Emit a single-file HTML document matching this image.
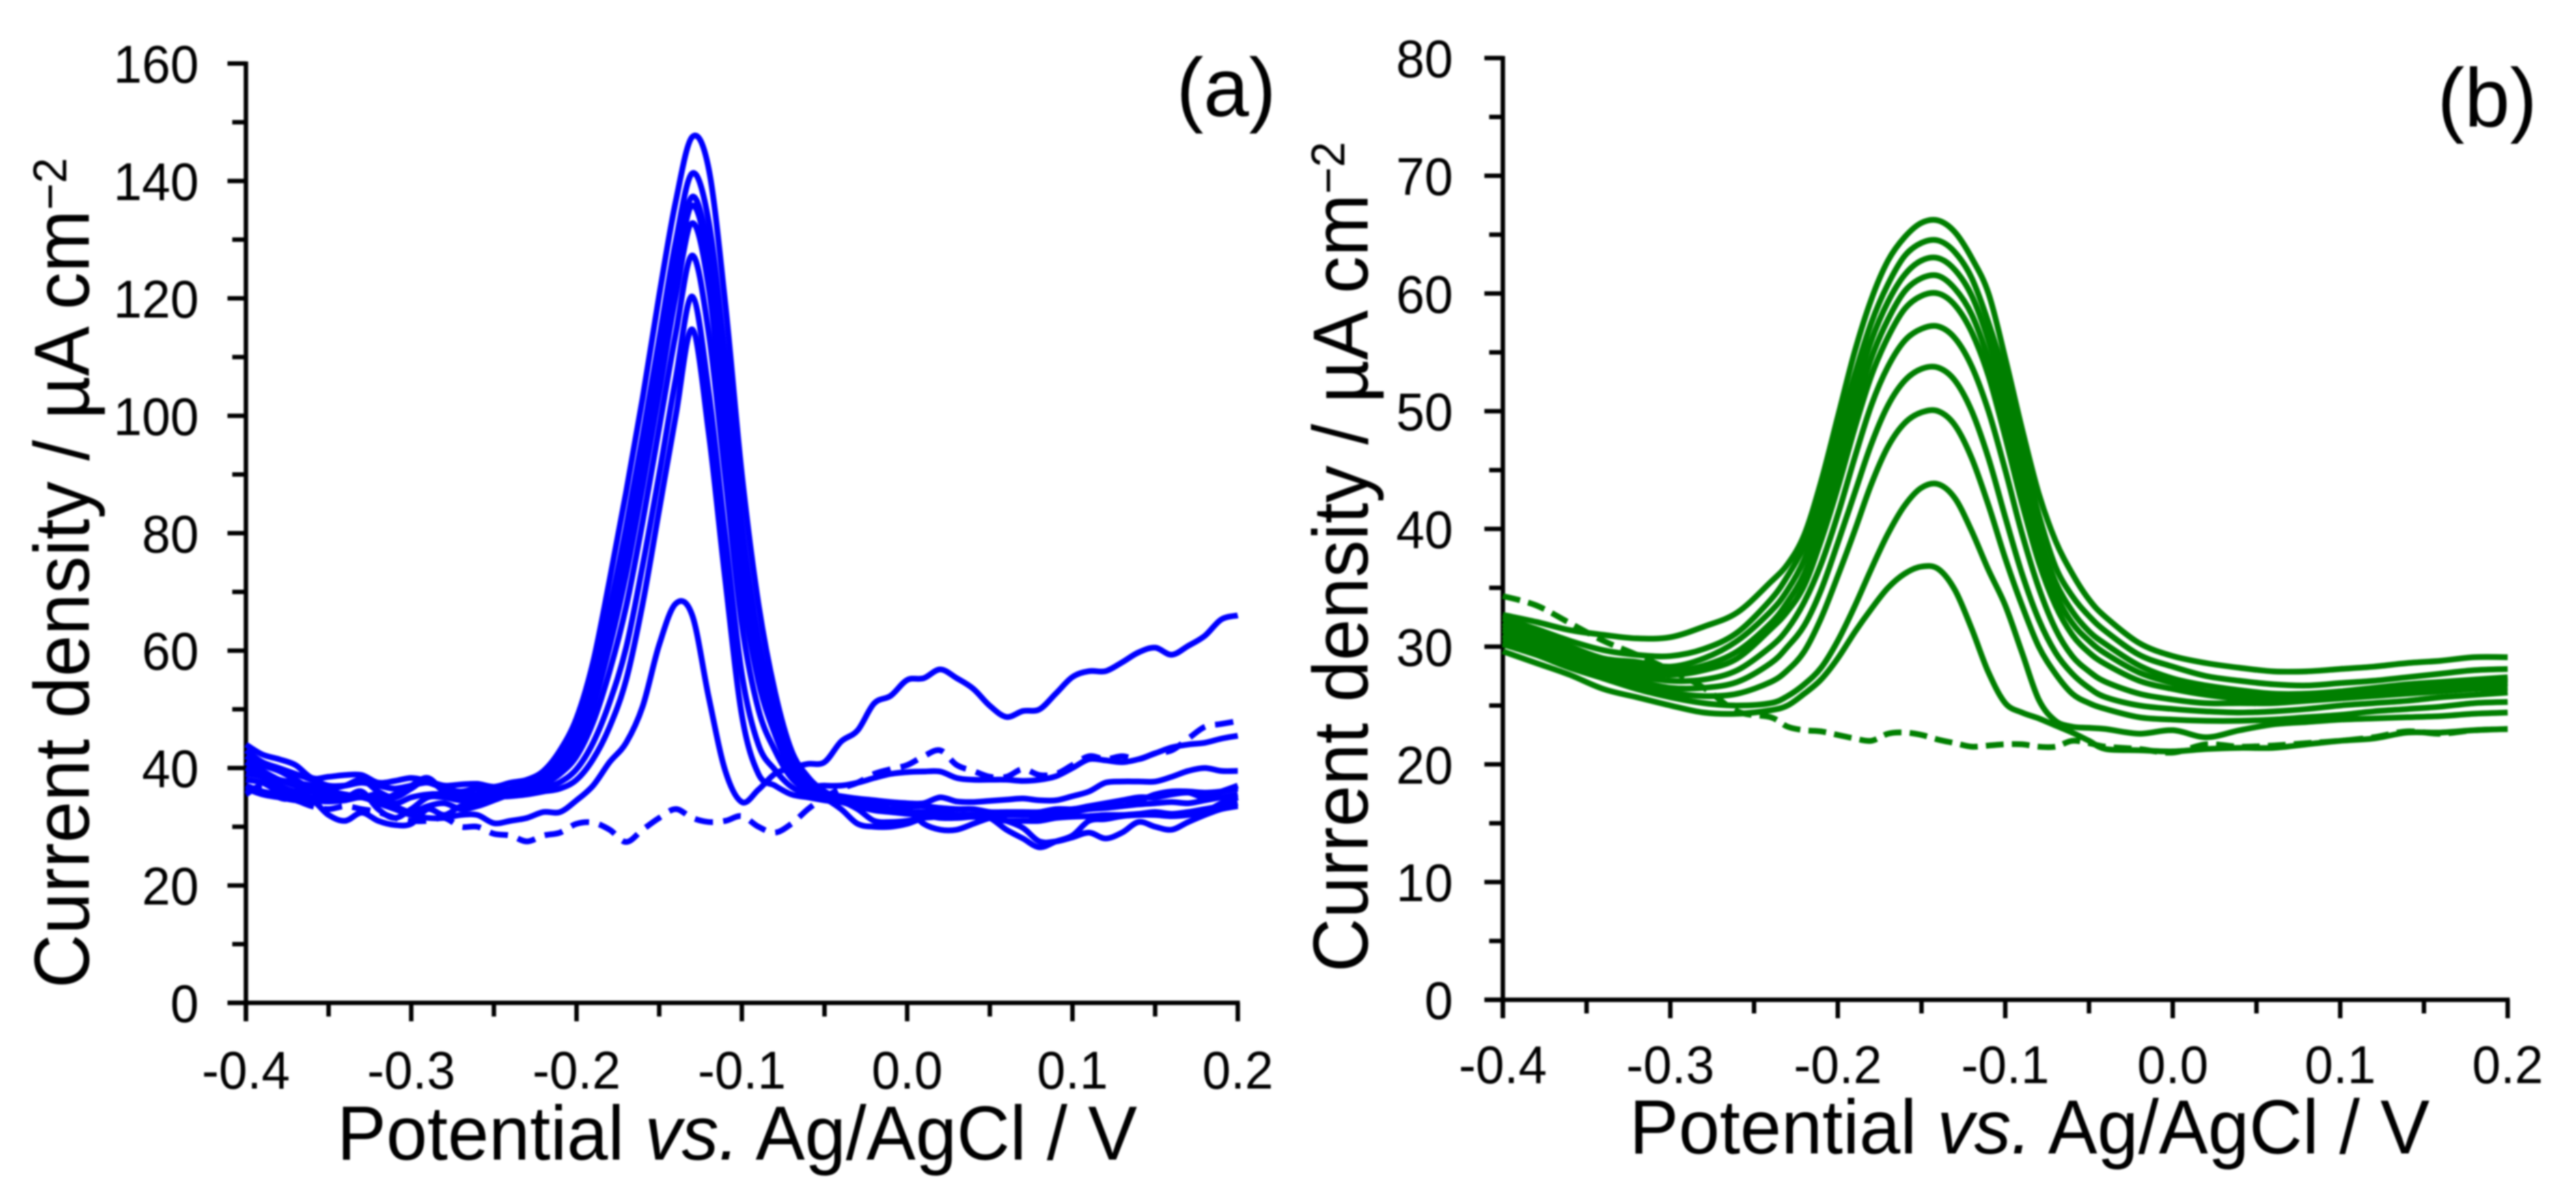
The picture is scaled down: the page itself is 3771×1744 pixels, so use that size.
<!DOCTYPE html>
<html lang="en">
<head>
<meta charset="utf-8">
<title>Current density vs potential (a) and (b)</title>
<style>
html,body{margin:0;padding:0;background:#fff;width:3771px;height:1744px;overflow:hidden}
svg{display:block;filter:blur(1.2px)}
text{font-family:"Liberation Sans",sans-serif;fill:#000}
</style>
</head>
<body>
<svg id="figure" xmlns="http://www.w3.org/2000/svg" width="3771" height="1744" viewBox="0 0 3771 1744">
<rect x="0" y="0" width="3771" height="1744" fill="#fff"/>
<g id="panel-a"></g>
<g id="panel-b"></g>
<text transform="translate(1795 170) scale(.98 1)" font-size="122" text-anchor="middle">(a)</text>
<text transform="translate(3641 185) scale(.98 1)" font-size="122" text-anchor="middle">(b)</text>
<text transform="translate(1079 1698) scale(.965 1)" font-size="112" text-anchor="middle">Potential <tspan font-style="italic">vs.</tspan> Ag/AgCl / V</text>
<text transform="translate(2971 1689) scale(.965 1)" font-size="112" text-anchor="middle">Potential <tspan font-style="italic">vs.</tspan> Ag/AgCl / V</text>
<text transform="translate(130 839) rotate(-90) scale(.96 1)" font-size="114" text-anchor="middle">Current density / µA cm<tspan font-size="70" dy="-33">−2</tspan></text>
<text transform="translate(2002 815.5) rotate(-90) scale(.96 1)" font-size="114" text-anchor="middle">Current density / µA cm<tspan font-size="70" dy="-34">−2</tspan></text>
</svg>
<script>
/* ---------- panel (a) data ---------- */
const potentialsA = [-0.40,-0.39,-0.38,-0.37,-0.36,-0.35,-0.34,-0.33,-0.32,-0.31,
-0.30,-0.29,-0.28,-0.27,-0.26,-0.25,-0.24,-0.23,-0.22,-0.21,
-0.20,-0.19,-0.18,-0.17,-0.16,-0.15,-0.14,-0.13,-0.12,-0.11,
-0.10,-0.09,-0.08,-0.07,-0.06,-0.05,-0.04,-0.03,-0.02,-0.01,
0.00,0.01,0.02,0.03,0.04,0.05,0.06,0.07,0.08,0.09,
0.10,0.11,0.12,0.13,0.14,0.15,0.16,0.17,0.18,0.19,0.20];
const aPeak148 = [44,42.3,41.5,40.5,38.3,38.5,38.8,38.8,37.5,37.8,
38.3,37.8,37,37.2,37.3,36.8,37.5,38,39.5,43,
48.5,58,72,87,103,120.5,136.5,147.5,142,119,
90,68,53,43,38.5,36,35,34.5,34.2,34,
33.5,33.5,33.2,33,33,32.5,32.5,32.5,32.5,33,
33,33.5,34,34.5,35,35,35.5,35.8,35,36,37];
const aPeak142 = [43,41,40,39,38,37,37,37.5,37,36.5,
37,37.5,36.5,36,36.5,36,36.5,37.5,38.8,41.7,
46.4,54.7,67,81,96.5,113,129.6,141.3,133,109.5,
81.5,62,49.8,41.5,37.8,35.7,35.2,34.8,34.5,34.2,
34,34,35,34.3,34.2,34.4,34.6,34.8,34.5,34.5,
35.2,36,37.5,37.7,37.7,37.7,38.5,39.5,40,39.5,39.5];
const aPeak138 = [42,40.5,39.5,38,36.5,36.5,37,38,36,35,
36.5,38,36,35.5,35.5,35.8,36,37.2,38.4,41,
45.2,52.7,64,77.5,92.5,108.5,125,137.3,127.6,103.5,
76.5,58.5,47.9,40.6,37.4,35.5,34.6,33.8,33.5,33,
32.5,32.5,32.5,32,32,32,32,32,32,32.2,
32.5,33,33.2,33.5,33.8,34,34.2,34,34.5,35,35.5];
const aPeak136 = [41,39.5,38,37,36,36,35.5,35,34.5,35.5,
37,38.3,36,35,35,35,36.3,37.1,38.2,40.6,
44.7,52,63,76,91,107,123.5,135.8,125.8,101.7,
75,57.3,47.2,40.3,37.2,37,37,37.5,38.3,39,
39.3,39.4,39.4,38.3,38,38,38,37.8,38,38.6,
40,41.5,41.3,41,41.5,42.5,43.5,44,44.3,45,45.5];
const aPeak133 = [40,39,38,37.5,37,36,35.5,35,35.5,34,
35,35.5,35.5,34.8,35,35.5,36,36.9,37.9,40,
43.8,50.6,60.7,73,88,104,120.4,132.8,121.8,97,
71,54.8,45.8,39.6,37,35.3,34.4,33,31,30.8,
31,31.5,31.7,31.7,31.7,31.5,31,31,31,31.5,
31.7,31.8,32,32,32.2,32.5,32.2,32.5,33,33.5,34];
const aPeak128 = [39,38.5,37,36,36,35.5,35,36,33,31.5,
33,35,35,34.5,34.8,35,35.8,36.5,37.3,39,
42,47.8,56.5,67.5,82,98,114,127.3,114,89.5,
64.5,50,43,38.3,36.3,35,34.5,33.5,32.8,32.5,
32.2,32,31.5,31.5,31.7,31.7,31,29.8,27.5,27.5,
28.2,29,28,29,30.8,30,29.5,30.8,32,33,33.5];
const aPeak121 = [38,37.5,36,35.5,35,35,34.8,35,34.5,33.5,
32.5,33.5,34,33,33.5,34.5,35.5,36,36.6,37.6,
39.8,44.3,51.2,60.5,74.5,90,106.3,120.3,104,79.5,
56,44,39.7,36.8,35.6,34.8,33,30.5,30,30,
30.5,31.5,32,32,32,31.5,29.5,28,26.5,27.5,
28.5,31,31.3,31.8,32,32,31.8,32,32.5,34,35];
const aPeak115 = [36.5,35.5,35,34.5,34.5,32,31,32.4,31,30.3,
30.5,33,32,33.5,34,35,35.2,35.5,36,36.5,
38,41.5,47,55,68,84,100,114.7,97,72,
49,39,37,35.5,35,34.5,34.2,33.5,33.5,33,
33,30.5,29.5,29.5,30.5,31.5,32,32.3,31.5,32,
33,33,33.5,34.5,34.5,35.5,36,36,35.8,36,36.5];
const aPeak68 = [37,36,35.5,35,34.5,34.3,34.5,35,34,33,
32,31.5,31.5,32,32,30.6,31,31.5,32.5,32.5,
34.5,37,41,44.3,50.5,61,68,66,52,39.5,
34.2,36.3,39,40,40.7,41,44.5,46.4,51,52.3,
55,55.3,56.8,55.3,53.5,50.6,48.7,49.7,50,52.7,
55.5,56.5,56.5,58,59.7,60.5,59.3,60.8,62.5,65.3,66];
const aDashed = [35.5,37,35,34.5,33.5,33,33.5,33,32.5,31.5,
31,31,31.5,30,30,28.8,28.5,27.5,28.5,29,
30.5,30.7,29.5,27.4,29.5,31.5,33,31.5,30.8,31,
31.8,30,29,30.5,33,35,36.5,37.5,39,39.8,
40.5,42,43,40.5,39.5,38.5,38.5,39.8,38.8,39,
40.5,42,41.5,42,41.5,42.5,43,45,47,47.5,48];

/* ---------- panel (b) data ---------- */
const potentialsB = [-0.40,-0.38,-0.36,-0.34,-0.32,-0.30,-0.28,-0.26,
-0.24,-0.23,-0.22,-0.21,-0.20,-0.19,-0.18,-0.17,-0.16,-0.15,-0.14,-0.13,-0.12,-0.11,-0.10,-0.09,-0.08,-0.07,-0.06,-0.05,-0.04,
-0.02,0.00,0.02,0.04,0.06,0.08,0.10,0.12,0.14,0.16,0.18,0.20];
const bPeak66 = [32.7,32.1,31.4,31,30.7,30.8,31.7,32.9,
35.5,37,39.5,44,49.5,55,59.5,62.8,64.8,66,66.2,65.2,63,60,54.5,48.5,43,39,36.2,34,32.5,
30.3,29.2,28.6,28.2,27.9,27.9,28.1,28.3,28.6,28.8,29.1,29.1];
const bPeak64 = [32.4,31.5,30.5,29.7,29.3,29.2,29.8,31.2,
34,36,38.6,42.6,47.8,53,57.5,60.8,63.2,64.3,64.5,63.5,61.3,57.5,52.8,46.8,41.2,36.8,34.3,32.6,31.3,
29.3,28.3,27.5,27.1,26.8,26.7,26.9,27.1,27.4,27.7,28,28.1];
const bPeak63 = [32,31,30,29,28.7,28.3,29,30.5,
33,34.8,37.4,41.3,46.2,51.5,56,59.3,61.6,62.8,63,62,59.8,56,51,45,39.5,35.5,33,31.3,30.2,
28.4,27.3,26.7,26.3,26,26,26.2,26.5,26.8,27,27.2,27.4];
const bPeak61 = [31.7,30.7,29.6,28.8,28.3,27.9,28.4,29.6,
32,33.8,36.2,40,45,50,54.5,57.8,60.2,61.3,61.5,60.4,58.2,54.4,49.4,43.7,38.4,34.5,32,30.5,29.4,
27.8,26.9,26.2,25.9,25.7,25.7,25.9,26.2,26.5,26.8,27,27.2];
const bPeak60 = [31.4,30.4,29.3,28.5,27.9,27.6,28,29,
31.5,33,35.2,39,43.5,48.5,53,56.3,58.7,59.8,60,59,56.7,53,47.8,42.2,37.2,33.5,31,29.5,28.5,
27.1,26.4,25.9,25.6,25.5,25.5,25.7,25.9,26.2,26.5,26.7,26.9];
const bPeak57 = [31,30,29,28.2,27.5,27.1,27.2,28,
30,31.5,33.8,37,41.2,46,50.5,53.8,56,57,57.2,56.2,53.8,50,45,39.6,35,31.5,29.2,27.9,27,
26,25.5,25.2,25.2,25.2,25.4,25.6,25.8,26,26.2,26.4,26.5];
const bPeak54 = [30.7,29.8,28.7,27.9,27.1,26.5,26.5,27,
28.6,30,31.8,34.8,38.8,43,47.2,50.5,52.6,53.6,53.7,52.6,50,46,41,36.2,32.3,29.5,27.7,26.5,25.7,
25,24.7,24.5,24.4,24.5,24.7,25,25.2,25.4,25.7,25.9,26.1];
const bPeak50 = [30.4,29.5,28.4,27.6,26.8,26.1,25.8,26,
27,28,29.6,32.4,36,39.8,43.8,47,49,49.9,50,48.8,46,42,37.5,33.5,30,27.7,26,25.2,24.7,
24,23.8,23.7,23.7,23.8,24,24.2,24.5,24.7,24.9,25.2,25.3];
const bPeak44 = [30.2,29.3,28.2,27.3,26.4,25.7,25.2,25,
25.2,25.8,26.8,28.2,30.5,33.4,36.6,39.6,42,43.5,43.8,42.6,39.8,36.5,33.5,29.5,25.5,23.7,23.2,23.1,23,
22.6,22.9,22.3,22.9,23.4,23.6,23.8,23.9,24,24.1,24.3,24.4];
const bPeak37 = [29.6,28.6,27.6,26.4,25.7,25,24.4,24.3,
24.6,25,26,27.2,29,31.2,33.2,35,36.2,36.8,36.6,34.8,31.5,27.8,25.2,24.4,23.9,23.3,22.7,22,21.3,
21.2,21.1,21.3,21.4,21.4,21.7,22,22.2,22.7,22.7,22.9,23];
const bDashed = [34.3,33.5,32,30.5,29.3,28,26.5,24.5,
24,23.2,22.9,22.8,22.5,22.2,22,22.6,22.7,22.5,22.1,21.8,21.5,21.6,21.7,21.7,21.5,21.5,22,21.8,21.5,
21.3,21,21.7,21.5,21.6,21.8,22,22.3,22.8,22.6,22.9,23];

/* ---------- tick labels ---------- */
const xTickValues = [-0.4,-0.35,-0.3,-0.25,-0.2,-0.15,-0.1,-0.05,0,0.05,0.1,0.15,0.2];
const xTickLabels = ['-0.4','','-0.3','','-0.2','','-0.1','','0.0','','0.1','','0.2'];
const yTicksA = [0,10,20,30,40,50,60,70,80,90,100,110,120,130,140,150,160];
const yLabelsA = ['0','','20','','40','','60','','80','','100','','120','','140','','160'];
const yTicksB = [0,5,10,15,20,25,30,35,40,45,50,55,60,65,70,75,80];
const yLabelsB = ['0','','10','','20','','30','','40','','50','','60','','70','','80'];

const SVGNS = 'http://www.w3.org/2000/svg';

function makeScale(d0, d1, r0, r1) {
  return function (v) { return r0 + (v - d0) * (r1 - r0) / (d1 - d0); };
}

function smoothPath(xs, ys) {
  let d = 'M' + xs[0].toFixed(1) + ' ' + ys[0].toFixed(1);
  for (let i = 0; i < xs.length - 1; i++) {
    const a = Math.max(i - 1, 0), b = i + 1, c = Math.min(i + 2, xs.length - 1);
    const c1x = xs[i] + (xs[b] - xs[a]) / 6, c1y = ys[i] + (ys[b] - ys[a]) / 6;
    const c2x = xs[b] - (xs[c] - xs[i]) / 6, c2y = ys[b] - (ys[c] - ys[i]) / 6;
    d += 'C' + c1x.toFixed(1) + ' ' + c1y.toFixed(1) + ' ' + c2x.toFixed(1) + ' ' + c2y.toFixed(1) + ' ' + xs[b].toFixed(1) + ' ' + ys[b].toFixed(1);
  }
  return d;
}

function drawPanel(cfg) {
  const g = document.getElementById(cfg.id);
  const sx = makeScale(-0.4, 0.2, cfg.x0, cfg.x1);
  const sy = makeScale(cfg.yMin, cfg.yMax, cfg.y0, cfg.y1);

  function line(x1, y1, x2, y2, w) {
    const el = document.createElementNS(SVGNS, 'line');
    el.setAttribute('x1', x1);
    el.setAttribute('y1', y1);
    el.setAttribute('x2', x2);
    el.setAttribute('y2', y2);
    el.setAttribute('stroke', '#000');
    el.setAttribute('stroke-width', w);
    g.appendChild(el);
    return el;
  }

  const xAxis = line(cfg.x0 - 27, cfg.y0, cfg.x1 + 3, cfg.y0, 6.5);
  
  
  const yAxis = line(cfg.x0, cfg.y1 - 3, cfg.x0, cfg.y0 + 27, 6.5);
  
  

  xTickValues.forEach(function (v, i) {
    const major = xTickLabels[i] !== '';
    const tx = sx(v);
    const t = line(tx, cfg.y0, tx, cfg.y0 + (major ? 27 : 20), 6.5);
    
    
    if (major) {
      const lab = document.createElementNS(SVGNS, 'text');
      
      
      lab.setAttribute('transform', 'translate(' + tx + ' ' + cfg.xLabelY + ') scale(.96 1)');
      lab.setAttribute('font-size', 78);
      lab.setAttribute('text-anchor', 'middle');
      lab.textContent = xTickLabels[i];
      g.appendChild(lab);
    }
  });

  cfg.yTicks.forEach(function (v, i) {
    const major = cfg.yLabels[i] !== '';
    const ty = sy(v);
    const t = line(cfg.x0 - (major ? 27 : 20), ty, cfg.x0, ty, 6.5);
    
    
    if (major) {
      const lab = document.createElementNS(SVGNS, 'text');
      
      
      lab.setAttribute('transform', 'translate(' + cfg.yLabelX + ' ' + (ty + 28) + ') scale(.96 1)');
      lab.setAttribute('font-size', 78);
      lab.setAttribute('text-anchor', 'end');
      lab.textContent = cfg.yLabels[i];
      g.appendChild(lab);
    }
  });

  cfg.series.forEach(function (s) {
    const path = document.createElementNS(SVGNS, 'path');
    
    
    path.setAttribute('d', smoothPath(cfg.potentials.map(sx), s.values.map(sy)));
    path.setAttribute('fill', 'none');
    path.setAttribute('stroke', cfg.color);
    path.setAttribute('stroke-width', 8.5);
    path.setAttribute('stroke-linejoin', 'round');
    if (s.dashed) path.setAttribute('stroke-dasharray', cfg.dash);
    g.appendChild(path);
  });
}

drawPanel({
  id: 'panel-a', x0: 360, x1: 1812, y0: 1468.5, y1: 93, yMin: 0, yMax: 160,
  xLabelY: 1594, yLabelX: 291, color: '#0000ff', dash: '27 15',
  potentials: potentialsA, yTicks: yTicksA, yLabels: yLabelsA,
  series: [
    { name: 'a-curve-peak-148', values: aPeak148 },
    { name: 'a-curve-peak-142', values: aPeak142 },
    { name: 'a-curve-peak-138', values: aPeak138 },
    { name: 'a-curve-peak-136', values: aPeak136 },
    { name: 'a-curve-peak-133', values: aPeak133 },
    { name: 'a-curve-peak-128', values: aPeak128 },
    { name: 'a-curve-peak-121', values: aPeak121 },
    { name: 'a-curve-peak-115', values: aPeak115 },
    { name: 'a-curve-peak-68', values: aPeak68 },
    { name: 'a-dashed-baseline-curve', values: aDashed, dashed: true }
  ]
});

drawPanel({
  id: 'panel-b', x0: 2200, x1: 3671, y0: 1464, y1: 85, yMin: 0, yMax: 80,
  xLabelY: 1586, yLabelX: 2127, color: '#007f00', dash: '26 12',
  potentials: potentialsB, yTicks: yTicksB, yLabels: yLabelsB,
  series: [
    { name: 'b-curve-peak-66', values: bPeak66 },
    { name: 'b-curve-peak-64', values: bPeak64 },
    { name: 'b-curve-peak-63', values: bPeak63 },
    { name: 'b-curve-peak-61', values: bPeak61 },
    { name: 'b-curve-peak-60', values: bPeak60 },
    { name: 'b-curve-peak-57', values: bPeak57 },
    { name: 'b-curve-peak-54', values: bPeak54 },
    { name: 'b-curve-peak-50', values: bPeak50 },
    { name: 'b-curve-peak-44', values: bPeak44 },
    { name: 'b-curve-peak-37', values: bPeak37 },
    { name: 'b-dashed-baseline-curve', values: bDashed, dashed: true }
  ]
});
</script>
</body>
</html>
